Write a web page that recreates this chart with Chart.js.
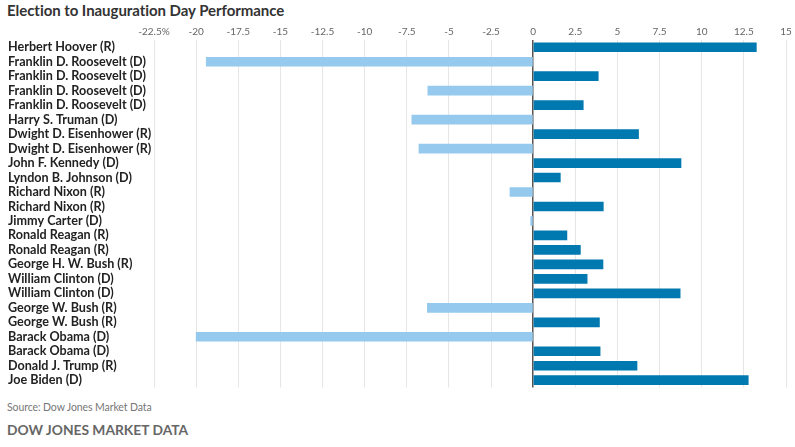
<!DOCTYPE html>
<html><head><meta charset="utf-8">
<script src="https://cdn.jsdelivr.net/npm/chart.js@4"></script>
<style>
html,body{margin:0;padding:0;background:#fff;}
#wrap{position:relative;width:795px;height:447px;overflow:hidden;font-family:Lato,sans-serif;}
#title{position:absolute;left:7px;top:1px;font:bold 15px Lato,sans-serif;color:#333;letter-spacing:-0.05px;}
#cv{position:absolute;left:0;top:0;}
#src{position:absolute;left:7px;top:401px;font:10.5px Lato,sans-serif;color:#777;letter-spacing:-0.1px;}
#brand{position:absolute;left:7px;top:421px;font:bold 13.8px Lato,sans-serif;color:#666;}
</style></head>
<body><div id="wrap">
<div id="title">Election to Inauguration Day Performance</div>
<div id="cvbox" style="position:absolute;left:0;top:0;width:795px;height:395px;"><canvas id="cv"></canvas></div>
<div id="src">Source: Dow Jones Market Data</div>
<div id="brand">DOW JONES MARKET DATA</div>
</div>
<script>
const presidents = ["Herbert Hoover (R)","Franklin D. Roosevelt (D)","Franklin D. Roosevelt (D)","Franklin D. Roosevelt (D)","Franklin D. Roosevelt (D)","Harry S. Truman (D)","Dwight D. Eisenhower (R)","Dwight D. Eisenhower (R)","John F. Kennedy (D)","Lyndon B. Johnson (D)","Richard Nixon (R)","Richard Nixon (R)","Jimmy Carter (D)","Ronald Reagan (R)","Ronald Reagan (R)","George H. W. Bush (R)","William Clinton (D)","William Clinton (D)","George W. Bush (R)","George W. Bush (R)","Barack Obama (D)","Barack Obama (D)","Donald J. Trump (R)","Joe Biden (D)"];
const performance = [13.24,-19.4,3.86,-6.25,2.97,-7.2,6.25,-6.78,8.77,1.61,-1.38,4.16,-0.15,2.0,2.8,4.14,3.2,8.72,-6.28,3.93,-20.0,3.97,6.16,12.76];
const tickValues = [-22.5,-20,-17.5,-15,-12.5,-10,-7.5,-5,-2.5,0,2.5,5,7.5,10,12.5,15];
const tickLabels = ["-22.5%","-20","-17.5","-15","-12.5","-10","-7.5","-5","-2.5","0","2.5","5","7.5","10","12.5","15"];
const gainColor = "#0079b0";
const lossColor = "#95caee";

const cv = document.getElementById('cv');
new Chart(cv, {
  type: 'bar',
  data: {
    labels: presidents,
    datasets: [{
      data: performance,
      backgroundColor: performance.map(v => v >= 0 ? gainColor : lossColor),
      barThickness: 9,
      borderWidth: 0
    }]
  },
  options: {
    indexAxis: 'y',
    responsive: true,
    maintainAspectRatio: false,
    animation: false,
    layout: { padding: { left: 8, right: 9, top: 22, bottom: 1 } },
    plugins: { legend: { display: false }, tooltip: { enabled: false }, title: { display: false } },
    scales: {
      x: {
        position: 'top',
        min: -22.5, max: 15,
        afterBuildTicks: s => { s.ticks = tickValues.map(v => ({ value: v })); },
        afterFit: s => { s.height = 18; },
        ticks: {
          padding: 2,
          color: '#666',
          font: { family: 'Lato', size: 10 },
          maxRotation: 0, autoSkip: false,
          callback: (v, i) => tickLabels[i]
        },
        grid: {
          drawTicks: false,
          color: c => (c.tick && c.tick.value === 0) ? '#555' : '#e6e6e6',
          lineWidth: c => (c.tick && c.tick.value === 0) ? 1.5 : 1
        },
        border: { display: false }
      },
      y: {
        afterFit: s => { s.width = 146; },
        ticks: {
          crossAlign: 'far',
          color: '#222',
          font: { family: 'Lato', size: 12.6, weight: 'bold' },
          autoSkip: false, padding: 0
        },
        grid: { display: false, drawTicks: false },
        border: { display: false }
      }
    }
  }
});
</script>
</body></html>
